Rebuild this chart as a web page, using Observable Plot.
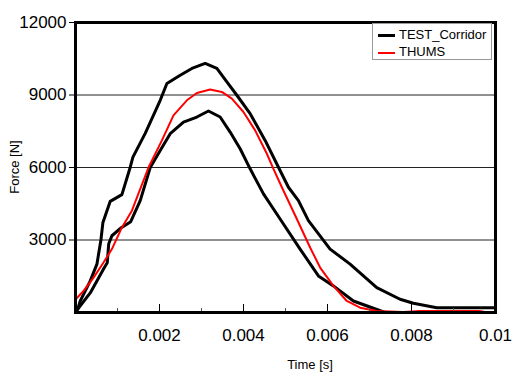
<!DOCTYPE html>
<html><head><meta charset="utf-8">
<script src="https://cdn.jsdelivr.net/npm/d3@7"></script>
<script src="https://cdn.jsdelivr.net/npm/@observablehq/plot@0.6"></script>
<style>
html,body{margin:0;padding:0;background:#fff;}
#wrap{position:relative;width:512px;height:372px;font-family:"Liberation Sans",Arial,sans-serif;color:#000;}
#wrap svg{position:absolute;left:0;top:0;}
.xt{position:absolute;left:310px;top:357px;transform:translateX(-50%);font-size:13px;white-space:nowrap;}
.yt{position:absolute;left:14px;top:167px;transform:translate(-50%,-50%) rotate(-90deg);font-size:13px;white-space:nowrap;}
.legend{position:absolute;left:372px;top:23px;width:118px;height:35px;border:1px solid #999;background:#fff;font-size:13px;}
.item{position:absolute;left:5px;height:16px;line-height:16px;white-space:nowrap;}
.sw{display:inline-block;width:17px;vertical-align:middle;margin-right:4px;}
</style></head>
<body>
<div id="wrap"></div>
<script>
const upperT = [0.00005,0.000113,0.000351,0.00051,0.000606,0.000653,0.000827,0.001105,0.001303,0.001367,0.00166,0.002017,0.002176,0.002493,0.002771,0.003087,0.003366,0.003604,0.003842,0.004158,0.004515,0.004832,0.00507,0.005308,0.005546,0.006062,0.006538,0.007173,0.007728,0.008044,0.008601,0.00994,0.01];
const upperF = [125,477,1308,2001,3010,3728,4600,4879,6012,6427,7411,8781,9475,9820,10098,10305,10098,9541,8989,8229,7121,6012,5182,4630,3800,2624,2001,1030,548,382,199,199,199];
const lowerT = [0.00005,0.000351,0.000684,0.000756,0.000791,0.000867,0.001089,0.001315,0.001541,0.001779,0.002017,0.002255,0.002571,0.00289,0.003166,0.003444,0.003682,0.00392,0.004158,0.004475,0.004872,0.005348,0.005784,0.006141,0.006617,0.007371];
const lowerF = [133,810,1848,2055,2844,3176,3508,3758,4630,6000,6706,7399,7880,8088,8337,8088,7465,6776,5946,4908,3870,2624,1515,1100,477,0];
const thumsT = [0,0.000192,0.00043,0.000667,0.000867,0.001105,0.001343,0.001462,0.001738,0.002057,0.002333,0.002652,0.00289,0.003206,0.003485,0.003723,0.003999,0.004277,0.004556,0.004713,0.004913,0.00527,0.005586,0.005824,0.006141,0.006459,0.006776,0.007173,0.0078,0.0082,0.0096,0.0097];
const thumsF = [540,893,1445,2068,2624,3521,4214,4750,6000,7121,8159,8781,9084,9226,9126,8852,8296,7536,6568,5946,5182,3870,2690,1860,1100,477,199,62,20,60,60,40];
const xMajor = [0.002,0.004,0.006,0.008,0.01];
const xMinor = [0.001,0.003,0.005,0.007,0.009];
const yTicks = [3000,6000,9000,12000];
const gridY = [3000,6000,9000];
const legendNames = ["TEST_Corridor","THUMS"];
const legendColors = ["black","red"];

const rows = (T,F) => T.map((t,i)=>({t, f:F[i]}));
const upper = rows(upperT, upperF), lower = rows(lowerT, lowerF), thums = rows(thumsT, thumsF);

const chart = Plot.plot({
  width: 512, height: 372,
  marginLeft: 75, marginRight: 17, marginTop: 22, marginBottom: 60,
  x: {domain: [0, 0.01]},
  y: {domain: [0, 12000]},
  style: {fontFamily: '"Liberation Sans", Arial, sans-serif', fontSize: "17px", color: "black", background: "transparent"},
  marks: [
    Plot.ruleY(gridY, {stroke: "#222", strokeWidth: 1}),
    Plot.line(upper, {x: "t", y: "f", stroke: "black", strokeWidth: 3}),
    Plot.line(lower, {x: "t", y: "f", stroke: "black", strokeWidth: 3}),
    Plot.line(thums, {x: "t", y: "f", stroke: "red", strokeWidth: 2}),
    Plot.tickX(xMajor, {x: d => d, insetTop: 282, stroke: "black", strokeWidth: 1}),
    Plot.tickX(xMinor, {x: d => d, insetTop: 286, stroke: "#555", strokeWidth: 1}),
    Plot.axisX({ticks: xMajor, tickSize: 0, tickPadding: 16, label: null, tickFormat: d => d === 0.01 ? "0.01" : d3.format(".3f")(d)}),
    Plot.axisY({ticks: yTicks, tickSize: 6, tickPadding: 3, label: null, tickFormat: d3.format("d")}),
    Plot.frame({stroke: "black", strokeWidth: 3})
  ]
});
const wrap = document.getElementById("wrap");
wrap.appendChild(chart);

const xt = document.createElement("div"); xt.className = "xt"; xt.textContent = "Time [s]"; wrap.appendChild(xt);
const yt = document.createElement("div"); yt.className = "yt"; yt.textContent = "Force [N]"; wrap.appendChild(yt);
const lg = document.createElement("div"); lg.className = "legend";
legendNames.forEach((n,i) => {
  const it = document.createElement("div"); it.className = "item"; it.style.top = (3 + i*17) + "px";
  const sw = document.createElement("span"); sw.className = "sw";
  sw.style.borderTop = (i === 0 ? 3 : 2) + "px solid " + legendColors[i];
  it.appendChild(sw);
  it.appendChild(document.createTextNode(n));
  lg.appendChild(it);
});
wrap.appendChild(lg);
</script>
</body></html>
